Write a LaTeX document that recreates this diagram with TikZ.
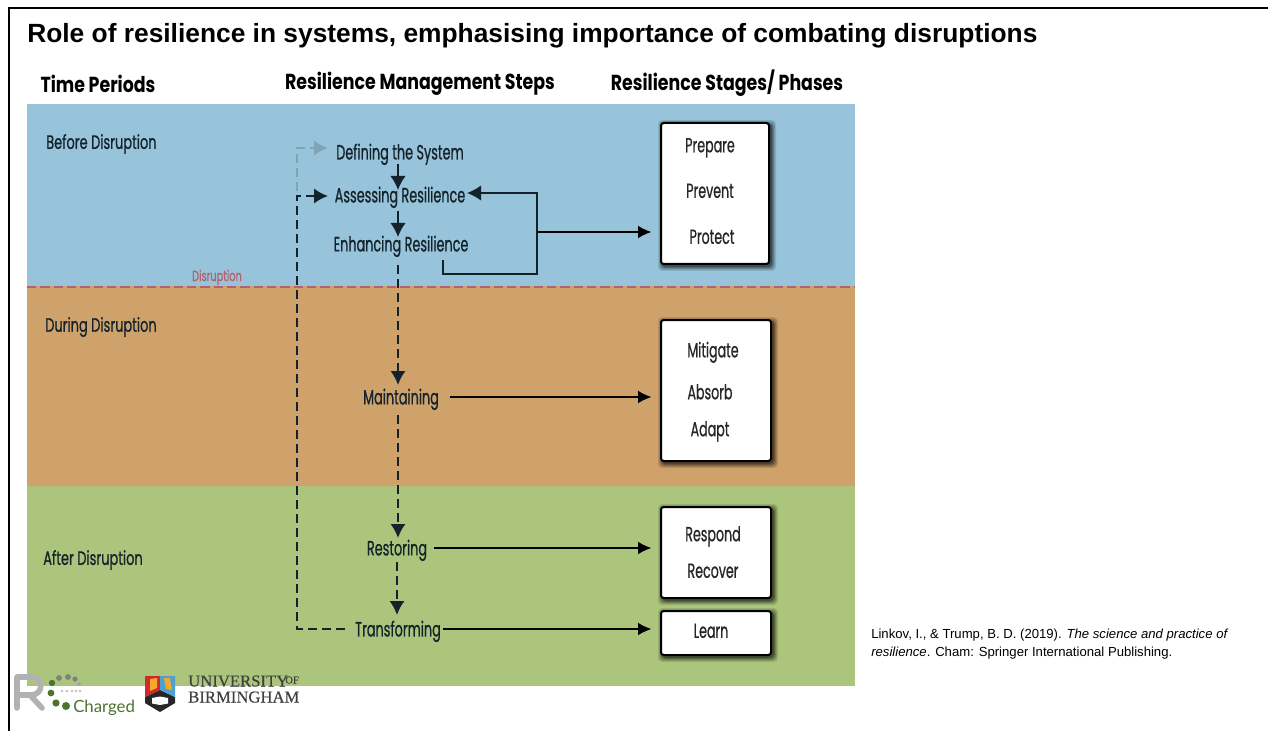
\documentclass[tikz,border=0pt]{standalone}
\usepackage{fontspec}
\usetikzlibrary{arrows.meta,calc}
\setmainfont{Liberation Sans}
\newfontfamily\cond[FakeStretch=0.62,FakeBold=0.7]{Poppins}
\newfontfamily\condp[FakeStretch=0.67,FakeBold=0.7]{Poppins}
\newfontfamily\condb[FakeStretch=0.80]{Poppins}
\newfontfamily\uni[FakeBold=0.3]{Liberation Serif}
\newfontfamily\chg{Lato}
\definecolor{bandblue}{HTML}{97C4DA}
\definecolor{bandorange}{HTML}{CFA26B}
\definecolor{bandgreen}{HTML}{ABC67C}
\definecolor{ink}{HTML}{14232B}
\definecolor{rose}{HTML}{B4606E}
\definecolor{ghost}{HTML}{7FA4B6}
\definecolor{leaf}{HTML}{4F7230}
\definecolor{crestblue}{HTML}{4F9FD0}
\definecolor{crestred}{HTML}{D0282C}
\definecolor{crestgold}{HTML}{EFA92B}
\newcommand{\fs}[1]{\fontsize{#1}{#1}\selectfont}
\tikzset{
  x=0.75pt,y=-0.75pt,
  band/.style={draw=none,minimum width=621pt,anchor=north west,inner sep=0pt,outer sep=0pt},
  head/.style={font=\condb\fs{16.3}\bfseries,text=black,inner sep=0pt,yshift=-0.3pt},
  period/.style={font=\condp\fs{14.5},text=ink,inner sep=0pt,anchor=west,yshift=-1.5pt},
  stepn/.style={font=\cond\fs{15.5},text=ink,inner sep=1pt,yshift=-1pt},
  phase/.style={font=\cond\fs{15.3},text=black!85,inner sep=0pt,yshift=-1pt},
  solidarrow/.style={draw=ink,line width=1.2pt,-{Latex[length=10.5pt,width=11.5pt]}},
  thinarrow/.style={draw=black,line width=0.9pt,shorten >=6.5pt,-{Latex[length=10pt,width=9.5pt]}},
  dasharrow/.style={draw=ink,line width=1.7pt,dash pattern=on 6.5pt off 4pt,-{Latex[length=10.5pt,width=11.5pt]}},
  ghostarrow/.style={draw=ghost,line width=1.7pt,dash pattern=on 6.5pt off 4pt,-{Latex[length=10.5pt,width=11.5pt]}},
  phasebox/.style={draw=black,line width=1.5pt,fill=white,rounded corners=2pt,inner sep=0pt,anchor=north west},
}
\newcommand{\phasebox}[5]{% name, x, y, w, h
  \foreach \k/\op in {5/0.10,4/0.12,3/0.15,2/0.2,1/0.25}
    \fill[black,opacity=\op,rounded corners=3pt] (#2+3-\k,#3+3-\k) rectangle (#2+#4+3+\k,#3+#5+3+\k);
  \node[phasebox,minimum width=#4*0.75pt,minimum height=#5*0.75pt] (#1) at (#2,#3) {};
}
\begin{document}
\begin{tikzpicture}
\useasboundingbox (0,0) rectangle (1268,731);
\fill[white] (0,0) rectangle (1268,731);
% frame
\coordinate (frameTL) at (9,8);
\coordinate (frameTR) at (1268,8);
\coordinate (frameBL) at (9,731);
\draw[black,line width=1.2pt] (frameBL) -- (frameTL) -- (frameTR);
% title
\node[anchor=west,inner sep=0pt,font=\fs{19.76}\bfseries] (title) at (27,35.5) {Role of resilience in systems, emphasising importance of combating disruptions};
% bands
\node[band,fill=bandblue,minimum height=137pt] (before) at (27,104) {};
\node[band,fill=bandorange,minimum height=150pt] (during) at (27,286) {};
\node[band,fill=bandgreen,minimum height=150pt] (after) at (27,486) {};
% headers
\node[head] (h1) at (98,83) {Time Periods};
\node[head] (h2) at (420,83) {Resilience Management Steps};
\node[head] (h3) at (727,83) {Resilience Stages/ Phases};
% period labels
\node[period] (p1) at (46,142) {Before Disruption};
\node[period] (p2) at (45,325) {During Disruption};
\node[period] (p3) at (43,558) {After Disruption};
% disruption line
\draw[rose,line width=1.3pt,dash pattern=on 7pt off 3pt] (before.south west) -- (before.south east);
\node[font=\condp\fs{11},text=rose,inner sep=0pt,yshift=-1pt] (dis) at (217,276) {Disruption};
% phase boxes
\phasebox{b1}{660}{122}{108}{141}
\phasebox{b2}{660}{319}{110}{141}
\phasebox{b3}{660}{506}{110}{91}
\phasebox{b4}{660}{610}{110}{44}
\node[phase] (t1) at (710,146.5) {Prepare};
\node[phase] (t2) at (710,189.5) {Prevent};
\node[phase] (t3) at (712,235.5) {Protect};
\node[phase] (t4) at (713,351) {Mitigate};
\node[phase] (t5) at (710,390.5) {Absorb};
\node[phase] (t6) at (710,430) {Adapt};
\node[phase] (t7) at (713,535) {Respond};
\node[phase] (t8) at (713,569.5) {Recover};
\node[phase] (t9) at (711,629.5) {Learn};
% steps
\node[stepn] (s1) at (400,153) {Defining the System};
\node[stepn] (s2) at (400,196) {Assessing Resilience};
\node[stepn] (s3) at (401,245) {Enhancing Resilience};
\node[stepn] (s4) at (401,398) {Maintaining};
\node[stepn] (s5) at (397,549) {Restoring};
\node[stepn] (s6) at (398,630) {Transforming};
% junction coordinates
\coordinate (gc1) at (297,191);
\coordinate (gc2) at (297,148);
\coordinate (gt) at (328,148);
\coordinate (dc0) at (345,629);
\coordinate (dc1) at (297,629);
\coordinate (dc2) at (297,196);
\coordinate (dt) at (328,196);
\coordinate (fbstart) at (443,260);
\coordinate (fb1) at (443,274);
\coordinate (fb2) at (537,274);
\coordinate (fb3) at (537,193);
\coordinate (fbt) at (467,193);
\coordinate (fbm) at (537,232);
\coordinate (m1) at (450,397);
\coordinate (m2) at (434,548);
\coordinate (m3) at (443,629);
\coordinate (a1) at (398,164);
\coordinate (a2) at (398,190);
\coordinate (a3) at (398,211);
\coordinate (a4) at (398,237);
\coordinate (a5) at (398,265);
\coordinate (a6) at (398,385);
\coordinate (a7) at (398,415);
\coordinate (a8) at (398,538);
\coordinate (a9) at (397,562);
\coordinate (a10) at (397,615);
% connectors
\draw[ghostarrow] (gc1) -- (gc2) -- (gt);
\draw[dasharrow] (dc0) -- (dc1) -- (dc2) -- (dt);
\draw[solidarrow] (a1) -- (a2);
\draw[solidarrow] (a3) -- (a4);
\draw[dasharrow] (a5) -- (a6);
\draw[dasharrow] (a7) -- (a8);
\draw[dasharrow] (a9) -- (a10);
\draw[draw=ink,line width=1.2pt,-{Latex[length=10.5pt,width=11.5pt]}] (fbstart) -- (fb1) -- (fb2) -- (fb3) -- (fbt);
\draw[thinarrow] (fbm) -- (b1.west |- fbm);
\draw[thinarrow] (m1) -- (b2.west |- m1);
\draw[thinarrow] (m2) -- (b3.west |- m2);
\draw[thinarrow] (m3) -- (b4.west |- m3);
% R-Charged logo
\draw[gray!60,line width=4.2pt,line cap=round,line join=round] (17,708) -- (17,677) -- (31,677) .. controls (44,677) and (44,695) .. (31,695) -- (17,695) (30,695) -- (42,708);
\foreach \x/\y/\r/\c in {59/678/2.9/gray,68/677/2.9/gray,75/679/2.6/gray,79/684/2/gray!70,52/683/3.2/leaf,51/693/3.4/leaf,56/703/3.6/leaf,66/706/4/leaf}
  \fill[\c] (\x,\y) circle[radius=\r];
\foreach \x in {62,67,72,76,80}
  \fill[gray!50] (\x,691) circle[radius=1.3];
\node[anchor=base west,inner sep=0pt,font=\chg\fs{12.6},text=leaf] (chg) at (73,712) {Charged};
% crest
\fill[black!85] (145,697) -- (160,690) -- (175,697) -- (175,703) -- (160,712) -- (145,703) -- cycle;
\fill[crestred] (145,676) -- (160,676) -- (160,690) -- (145,697) -- cycle;
\fill[crestblue] (160,676) -- (175,676) -- (175,697) -- (160,690) -- cycle;
\fill[crestgold] (150,679) -- (157,678) -- (157,688) -- (150,691) -- cycle;
\fill[crestgold] (164,678) -- (170,678) -- (172,690) -- (166,689) -- cycle;
\fill[white] (152,698) -- (160,696.5) -- (168,698) -- (168,703.5) -- (160,705) -- (152,703.5) -- cycle;
% Birmingham wordmark
\node[anchor=base west,inner sep=0pt,font=\uni\fs{12.5},text=black!75] (u1) at (188,686.5) {UNIVERSITY};
\node[anchor=base west,inner sep=0pt,font=\uni\fs{8},text=black!75] (u2) at (285,683.5) {OF};
\node[anchor=base west,inner sep=0pt,font=\uni\fs{12.5},text=black!75] (u3) at (188,702.5) {BIRMINGHAM};
% reference
\node[anchor=west,inner sep=0pt,font=\fs{9.85}] (r1) at (871,635.5) {Linkov, I., \& Trump, B. D. (2019). \textit{The science and practice of}};
\node[anchor=west,inner sep=0pt,font=\fs{9.85}] (r2) at (871,653.5) {\textit{resilience}. Cham: Springer International Publishing.};
\end{tikzpicture}
\end{document}
